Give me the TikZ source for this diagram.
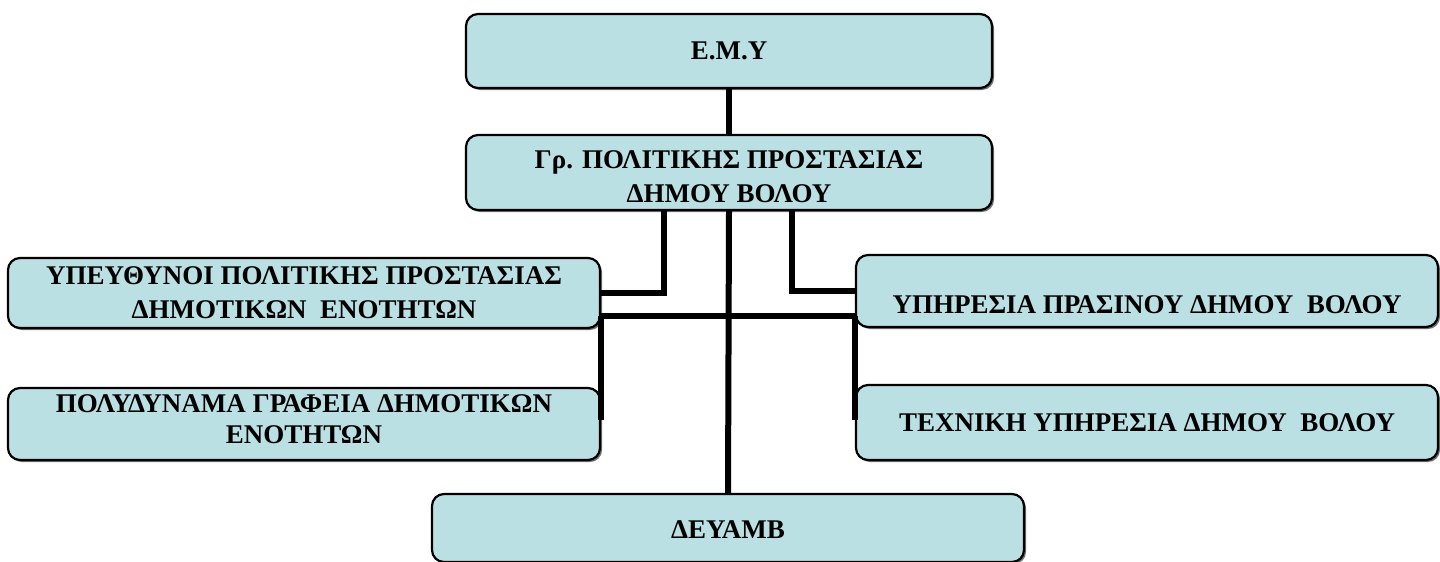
\documentclass[tikz,border=0pt]{standalone}
\usepackage{fontspec}
\setmainfont{Liberation Serif}
\usetikzlibrary{calc,shadows}
\definecolor{boxfill}{RGB}{187,224,227}
\begin{document}
\begin{tikzpicture}[x=0.5pt,y=-0.5pt,
  box/.style={draw=black, line width=1.1pt, fill=boxfill, rounded corners=6pt,
    inner sep=0pt, align=center, font=\bfseries\fontsize{13.5}{17}\selectfont,
    drop shadow={shadow xshift=1pt, shadow yshift=-1pt, opacity=0.8, fill=black!70}},
  conn/.style={draw=black, line width=3pt}]
\useasboundingbox (0,0) rectangle (1440,562);
\node[box, minimum width=263pt, minimum height=37pt] (emy) at (729,51) {Ε.Μ.Υ};
\node[box, minimum width=263pt, minimum height=37.5pt] (gr) at (729,172.5) {\rule{0pt}{13pt}Γρ. ΠΟΛΙΤΙΚΗΣ ΠΡΟΣΤΑΣΙΑΣ\\ ΔΗΜΟΥ ΒΟΛΟΥ};
\node[box, minimum width=296pt, minimum height=35pt] (l1) at (304,293) {ΥΠΕΥΘΥΝΟΙ ΠΟΛΙΤΙΚΗΣ ΠΡΟΣΤΑΣΙΑΣ\\ ΔΗΜΟΤΙΚΩΝ\ \ ΕΝΟΤΗΤΩΝ};
\node[box, minimum width=296pt, minimum height=36pt] (l2) at (304,424) {ΠΟΛΥΔΥΝΑΜΑ ΓΡΑΦΕΙΑ ΔΗΜΟΤΙΚΩΝ\\[-1.5pt] ΕΝΟΤΗΤΩΝ\rule[-5pt]{0pt}{0pt}};
\node[box, minimum width=291pt, minimum height=36pt] (r1) at (1147,291) {\rule{0pt}{23pt}ΥΠΗΡΕΣΙΑ ΠΡΑΣΙΝΟΥ ΔΗΜΟΥ\ \ ΒΟΛΟΥ};
\node[box, minimum width=291pt, minimum height=37.5pt] (r2) at (1147,422.5) {ΤΕΧΝΙΚΗ ΥΠΗΡΕΣΙΑ ΔΗΜΟΥ\ \ ΒΟΛΟΥ};
\node[box, minimum width=296pt, minimum height=34pt] (d) at (728,528) {\rule{0pt}{11pt}ΔΕΥΑΜΒ};
\coordinate (c1) at (664,0);
\coordinate (c2) at (792,0);
\coordinate (h) at (0,316);
\coordinate (v) at (0,420);
\draw[conn] (emy.south) -- (gr.north);
\draw[conn] (gr.south -| c1) |- (l1);
\draw[conn] (gr.south -| c2) |- (r1);
\draw[conn] (gr.south) -- (d.north);
\draw[conn] (l1.east |- h) -- (r1.west |- h);
\draw[conn] (l1.east |- h) -- (l2.east |- v);
\draw[conn] (r1.west |- h) -- (r2.west |- v);
\end{tikzpicture}
\end{document}
